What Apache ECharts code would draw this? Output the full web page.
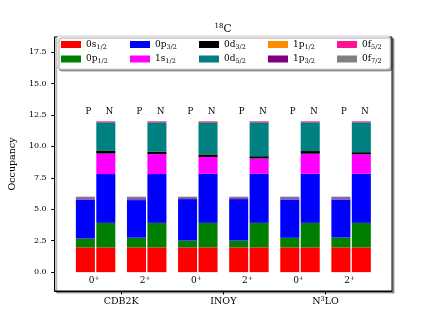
<!DOCTYPE html>
<html>
<head>
<meta charset="utf-8">
<script src="https://cdn.jsdelivr.net/npm/echarts@6/dist/echarts.min.js"></script>
<style>
  html, body { margin: 0; padding: 0; background: #fff; }
  #chart { width: 436px; height: 327px; }
</style>
</head>
<body>
<div id="chart"></div>
<script>
// shells from the bottom of each stack to the top (legend is filled column by column)
const shells = ["0s1/2", "0p1/2", "0p3/2", "1s1/2", "0d3/2", "0d5/2", "1p1/2", "1p3/2", "0f5/2", "0f7/2"];
const shellColors = ["#ff0000", "#008000", "#0000ff", "#ff00ff", "#000000", "#008080", "#ff8c00", "#800080", "#ff1493", "#808080"];
const models = ["CDB2K", "INOY", "N3LO"];
const states = ["0+", "2+", "0+", "2+", "0+", "2+"];
const yTicks = [0, 2.5, 5, 7.5, 10, 12.5, 15, 17.5];

// occupancy, one row per shell, one column per (model, state)
const protonOcc = [
  [1.97, 1.97, 1.97, 1.97, 1.97, 1.97],
  [0.70, 0.77, 0.54, 0.54, 0.76, 0.78],
  [3.08, 2.99, 3.30, 3.30, 3.05, 3.03],
  [0.06, 0.07, 0.05, 0.06, 0.06, 0.06],
  [0.03, 0.04, 0.03, 0.03, 0.03, 0.03],
  [0.10, 0.11, 0.07, 0.06, 0.09, 0.09],
  [0.01, 0.01, 0.01, 0.01, 0.01, 0.01],
  [0.03, 0.02, 0.01, 0.01, 0.01, 0.01],
  [0.01, 0.01, 0.01, 0.01, 0.01, 0.01],
  [0.01, 0.01, 0.01, 0.01, 0.01, 0.01]
];
const neutronOcc = [
  [1.97, 1.97, 1.97, 1.97, 1.97, 1.97],
  [1.95, 1.95, 1.95, 1.95, 1.95, 1.95],
  [3.88, 3.88, 3.90, 3.90, 3.90, 3.90],
  [1.63, 1.59, 1.34, 1.22, 1.60, 1.55],
  [0.21, 0.18, 0.20, 0.18, 0.21, 0.17],
  [2.26, 2.33, 2.54, 2.68, 2.27, 2.36],
  [0.01, 0.01, 0.01, 0.01, 0.01, 0.01],
  [0.03, 0.03, 0.03, 0.03, 0.03, 0.03],
  [0.05, 0.05, 0.05, 0.05, 0.05, 0.05],
  [0.01, 0.01, 0.01, 0.01, 0.01, 0.01]
];

const FONT = "DejaVu Serif";
const barW = 0.4;

function renderBar(params, api) {
  const tl = api.coord([api.value(0), api.value(3)]);
  const br = api.coord([api.value(1), api.value(2)]);
  return {
    type: "rect",
    shape: { x: tl[0] + 0.7, y: tl[1], width: br[0] - tl[0] - 1.4, height: br[1] - tl[1] },
    style: { fill: api.visual("color") }
  };
}

let series = shells.map((name, s) => {
  let data = [];
  states.forEach((st, g) => {
    [[protonOcc, g - barW], [neutronOcc, g]].forEach(([occ, x0]) => {
      let base = 0;
      for (let k = 0; k < s; k++) base += occ[k][g];
      data.push([x0, x0 + barW, base, base + occ[s][g]]);
    });
  });
  return {
    name: name,
    type: "custom",
    itemStyle: { color: shellColors[s] },
    encode: { x: [0, 1], y: [2, 3] },
    renderItem: renderBar,
    data: data
  };
});

// P / N above each bar, state under each pair
let labelText = [];
let labelAlign = [];
let labelPos = [];
states.forEach((st, g) => {
  labelText.push("P", "N", st.replace("+", "{sup|+}"));
  labelAlign.push("left", "left", "center");
  labelPos.push([g - barW / 2, 12.75], [g + barW / 2, 12.75], [g, -0.7]);
});

series.push({
  type: "custom",
  silent: true,
  encode: { x: 0, y: 1 },
  data: labelPos,
  renderItem: (params, api) => {
    const pt = api.coord([api.value(0), api.value(1)]);
    const i = params.dataIndex;
    return {
      type: "text",
      x: pt[0] + (labelAlign[i] == "center" ? -1.5 : 0),
      y: pt[1],
      style: {
        text: labelText[i],
        align: labelAlign[i],
        verticalAlign: "middle",
        fill: "#000",
        fontFamily: FONT,
        fontSize: labelAlign[i] == "center" ? 9 : 8.5,
        lineHeight: 12,
        rich: {
          sup: { fontFamily: FONT, fontSize: 6, lineHeight: 7, verticalAlign: "top", fill: "#000" }
        }
      }
    };
  }
});

const legendBase = {
  orient: "horizontal",
  icon: "rect",
  itemWidth: 20,
  itemHeight: 7,
  itemGap: 18,
  selectedMode: false,
  formatter: (n) => n.slice(0, 2) + "{sub|" + n.slice(2) + "}",
  textStyle: {
    fontFamily: FONT,
    fontSize: 9,
    color: "#000",
    width: 26,
    lineHeight: 12,
    rich: {
      sub: { fontFamily: FONT, fontSize: 6.5, lineHeight: 8, verticalAlign: "bottom", color: "#000" }
    }
  }
};

const chart = echarts.init(document.getElementById("chart"));
chart.setOption({
  animation: false,
  title: {
    text: "{sup|18}{el|C}",
    left: 223,
    top: 23,
    padding: 0,
    textAlign: "center",
    textStyle: {
      fontWeight: "normal",
      rich: {
        sup: { fontFamily: FONT, fontSize: 7, fontWeight: "normal", lineHeight: 12, verticalAlign: "top", color: "#000" },
        el: { fontFamily: FONT, fontSize: 10.5, fontWeight: "normal", lineHeight: 12, color: "#000" }
      }
    }
  },
  legend: [
    Object.assign({}, legendBase, {
      data: shells.filter((n, i) => i % 2 == 0),
      left: 57,
      top: 36,
      padding: [2.5, 2, 18.5, 4],
      backgroundColor: "#fff",
      borderColor: "#cccccc",
      borderWidth: 1,
      borderRadius: 3,
      shadowColor: "rgba(0,0,0,0.35)",
      shadowOffsetX: 2,
      shadowOffsetY: 2,
      z: 5
    }),
    Object.assign({}, legendBase, {
      data: shells.filter((n, i) => i % 2 == 1),
      left: 61,
      top: 53,
      padding: 0,
      z: 6
    })
  ],
  grid: {
    left: 54,
    right: 44,
    top: 37,
    bottom: 36,
    show: true,
    backgroundColor: "#fff",
    borderColor: "#000",
    borderWidth: 1,
    shadowColor: "rgba(0,0,0,0.35)",
    shadowOffsetX: 2,
    shadowOffsetY: 2
  },
  xAxis: {
    type: "value",
    min: -0.8,
    max: 5.8,
    splitLine: { show: false },
    axisLine: { show: true, onZero: false, lineStyle: { color: "#000", width: 1 } },
    axisTick: { show: true, length: 3.5, customValues: models.map((m, i) => 2 * i + 0.5), lineStyle: { color: "#000" } },
    axisLabel: {
      customValues: models.map((m, i) => 2 * i + 0.5),
      formatter: (v) => models[Math.round((v - 0.5) / 2)].replace("N3", "N{sup|3}"),
      margin: 5,
      fontFamily: FONT,
      fontSize: 9.5,
      color: "#000",
      lineHeight: 12,
      rich: {
        sup: { fontFamily: FONT, fontSize: 6.5, lineHeight: 8, verticalAlign: "top", color: "#000" }
      }
    }
  },
  yAxis: {
    type: "value",
    min: -1.5,
    max: 18.7,
    name: "Occupancy",
    nameLocation: "middle",
    nameGap: 26,
    nameTextStyle: { fontFamily: FONT, fontSize: 9.5, color: "#000" },
    splitLine: { show: false },
    axisLine: { show: true, onZero: false, lineStyle: { color: "#000", width: 1 } },
    axisTick: { show: true, length: 3.5, customValues: yTicks, lineStyle: { color: "#000" } },
    axisLabel: {
      customValues: yTicks,
      formatter: (v) => v.toFixed(1),
      margin: 8,
      fontFamily: FONT,
      fontSize: 8,
      color: "#000"
    }
  },
  series: series
});
</script>
</body>
</html>
